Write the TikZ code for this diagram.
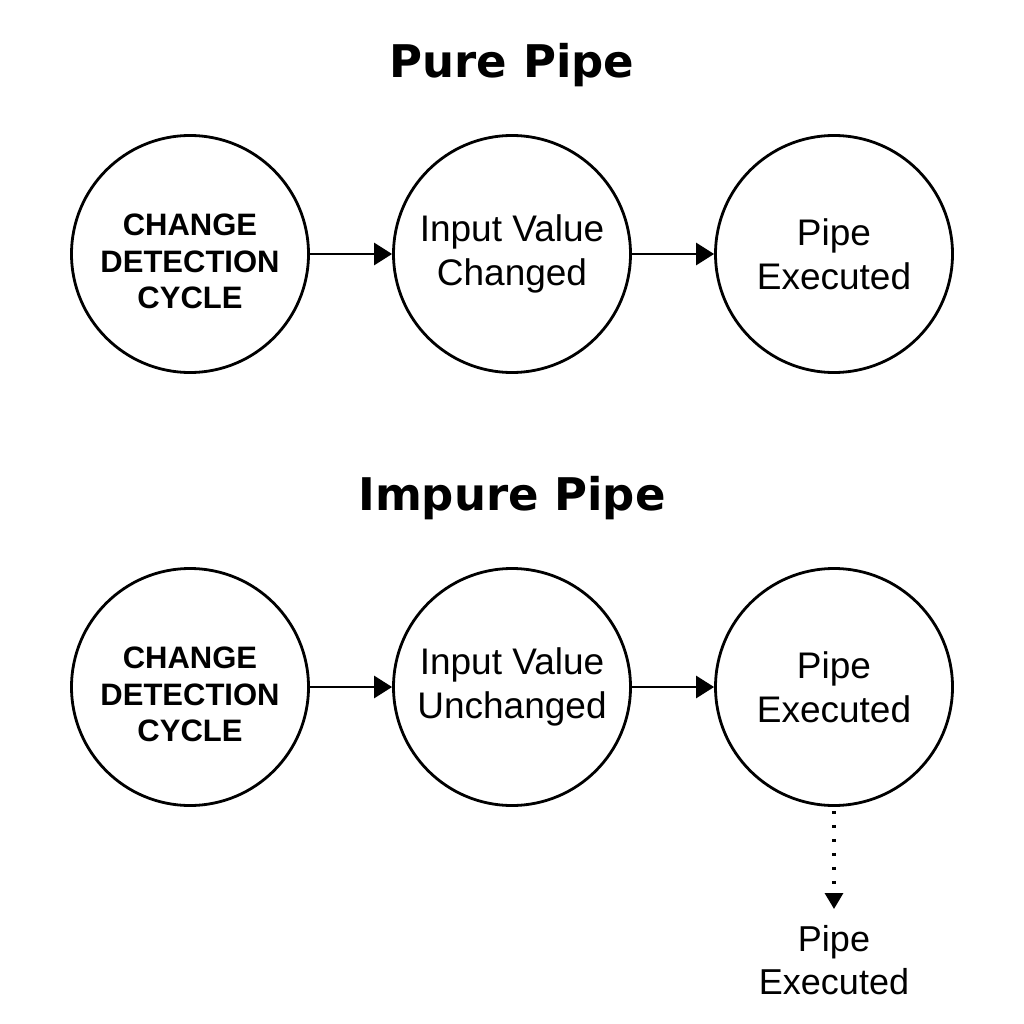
\documentclass[tikz,border=0pt]{standalone}
\usepackage{fontspec}
\setmainfont{Liberation Sans}
\newfontfamily\titlefont{DejaVu Sans}
\usetikzlibrary{arrows.meta}
\newcommand{\cdclabel}{\begin{tabular}{@{}c@{}}\rule{0pt}{47.5pt}CHANGE\\DETECTION\\CYCLE\end{tabular}}
\begin{document}
\begin{tikzpicture}[x=1pt,y=1pt,
  stage/.style={circle,draw,line width=2.8pt,minimum size=237pt,inner sep=0pt,align=center,font=\fontsize{37}{44}\selectfont},
  cdc/.style={stage,font=\fontsize{31}{36.5}\selectfont\bfseries},
  flow/.style={-{Triangle[length=18pt,width=22pt]},line width=2.8pt},
  dotflow/.style={-{Triangle[length=16pt,width=18pt]},line width=3.2pt,dash pattern=on 3.2pt off 10.8pt},
  ttl/.style={font=\titlefont\bfseries\fontsize{45}{54}\selectfont},
  lbl/.style={align=center,font=\fontsize{36}{43}\selectfont}]
\fill[white] (0,0) rectangle (1024,-1024);
\useasboundingbox (0,0) rectangle (1024,-1024);

\node[ttl,anchor=base] (t1) at (512,-78) {Pure Pipe};
\node[cdc] (a1) at (190,-254) {\cdclabel};
\node[stage] (b1) at (512,-254) {Input Value\\Changed};
\node[stage] (c1) at (834,-254) {Pipe\\Executed};
\draw[flow] (a1) -- (b1);
\draw[flow] (b1) -- (c1);

\node[ttl,anchor=base] (t2) at (512,-510) {Impure Pipe};
\node[cdc] (a2) at (190,-687) {\cdclabel};
\node[stage] (b2) at (512,-687) {Input Value\\Unchanged};
\node[stage] (c2) at (834,-687) {Pipe\\Executed};
\draw[flow] (a2) -- (b2);
\draw[flow] (b2) -- (c2);

\coordinate (tipend) at (834,-909);
\draw[dotflow] (c2.south) ++(0,-4) -- (tipend);
\node[lbl] (d2) at (834,-960) {Pipe\\Executed};
\end{tikzpicture}
\end{document}
